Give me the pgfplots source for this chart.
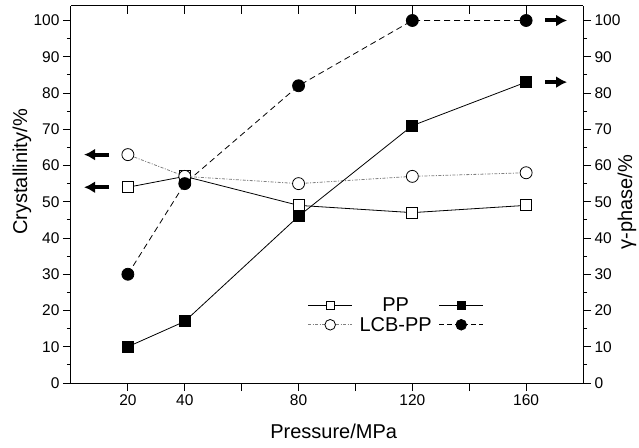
\documentclass[border=0pt]{standalone}
\usepackage{pgfplots}
\pgfplotsset{compat=1.18}
\usepackage{fontspec}
\setmainfont{Liberation Sans}
\usetikzlibrary{arrows.meta}
\begin{document}
\begin{tikzpicture}
\useasboundingbox (-71pt,-64pt) rectangle (568pt,383pt);
\pgfplotsset{
  base/.style={
    at={(0pt,0pt)}, anchor=south west,
    scale only axis, width=512pt, height=377pt,
    xmin=0, xmax=180, ymin=0, ymax=104,
    /pgf/number format/assume math mode=true,
    tick label style={font=\fontsize{15.5}{18}\selectfont},
    label style={font=\fontsize{20}{24}\selectfont},
    major tick length=8pt, minor tick length=4pt,
    tick style={black, line width=0.8pt},
    axis line style={black, line width=1pt},
  }
}
% left axis: crystallinity
\begin{axis}[base,
  axis y line*=left, axis x line*=bottom, tick align=outside,
  xtick={20,40,60,80,100,120,140,160},
  xticklabels={20,40,,80,,120,,160},
  ytick={0,10,...,100}, minor y tick num=1,
  xlabel={Pressure/MPa},
  xlabel style={at={(axis description cs:0.513,-0.128)}, anchor=center},
  ylabel={Crystallinity/\%},
  ylabel style={at={(axis description cs:-0.096,0.56)}, anchor=center},
]
\addplot[forget plot, black, line width=0.8pt, mark=square*, mark size=5.5pt,
  mark options={solid, fill=white, line width=0.8pt}]
  coordinates {(20,54) (40,57) (80,49) (120,47) (160,49)};
\addplot[forget plot, gray, line width=0.8pt, dash pattern={on 3pt off 1.5pt on 1pt off 1.5pt},
  mark=*, mark size=6pt, mark options={solid, draw=black, fill=white, line width=0.8pt}]
  coordinates {(20,63) (40,57) (80,55) (120,57) (160,58)};
\draw[-{Latex[length=11pt,width=12pt]}, line width=4pt] (axis cs:13.4,63) -- (axis cs:4.6,63);
\draw[-{Latex[length=11pt,width=12pt]}, line width=4pt] (axis cs:13.4,54) -- (axis cs:4.6,54);
\end{axis}
% right axis: gamma phase
\begin{axis}[base,
  axis y line*=right, axis x line=none, tick align=outside,
  ytick={0,10,...,100}, minor y tick num=1,
  ylabel={γ-phase/\%},
  ylabel style={at={(axis description cs:1.086,0.48)}, anchor=center},
  legend columns=2,
  legend cell align=center,
  legend image code/.code={\draw[mark repeat=2,mark phase=2] plot coordinates {(0pt,0pt) (22pt,0pt) (44pt,0pt)};},
  legend style={draw=none, fill=none, at={(axis description cs:0.643,0.18)}, anchor=center,
    font=\fontsize{20}{24}\selectfont, column sep=5pt},
]
\addplot[forget plot, black, line width=0.8pt, mark=square*, mark size=5.5pt, mark options={solid}]
  coordinates {(20,10) (40,17) (80,46) (120,71) (160,83)};
\addplot[forget plot, black, line width=0.8pt, dash pattern={on 6pt off 4pt},
  mark=*, mark size=6pt, mark options={solid}]
  coordinates {(20,30) (40,55) (80,82) (120,100) (160,100)};
\draw[-{Latex[length=11pt,width=12pt]}, line width=4pt] (axis cs:166.7,100) -- (axis cs:174.4,100);
\draw[-{Latex[length=11pt,width=12pt]}, line width=4pt] (axis cs:166.7,83) -- (axis cs:174.4,83);
\addlegendimage{black, line width=0.8pt, mark=square*, mark size=4pt, mark options={solid, fill=white}}
\addlegendentry{PP}
\addlegendimage{black, line width=0.8pt, mark=square*, mark size=4pt, mark options={solid}}
\addlegendentry{}
\addlegendimage{gray, line width=0.8pt, dash pattern={on 3pt off 1.5pt on 1pt off 1.5pt}, mark=*, mark size=5.3pt, mark options={solid, draw=black, fill=white}}
\addlegendentry{LCB-PP}
\addlegendimage{black, line width=0.8pt, dash pattern={on 5pt off 3pt}, mark=*, mark size=5.3pt, mark options={solid}}
\addlegendentry{}
\end{axis}
% top axis line with inward ticks
\begin{axis}[base,
  axis x line*=top, axis y line=none, tick align=inside,
  xtick={20,40,60,80,100,120,140,160}, xticklabels={},
]
\end{axis}
\end{tikzpicture}
\end{document}
